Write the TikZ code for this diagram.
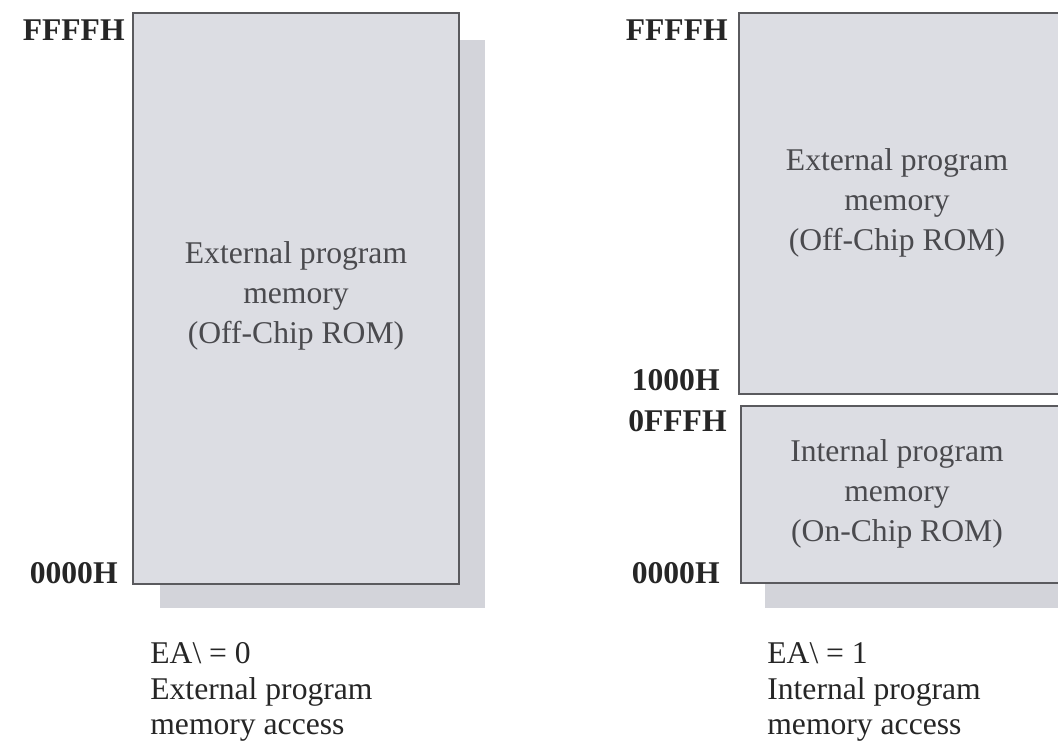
\documentclass[tikz,border=0pt]{standalone}
\usepackage{fontspec}
\setmainfont{Liberation Serif}
\definecolor{boxfill}{HTML}{DCDDE3}
\definecolor{shadowfill}{HTML}{D3D4DA}
\definecolor{boxline}{HTML}{5A5A5E}
\definecolor{txt}{HTML}{4A4A4E}
\tikzset{
  memblock/.style={draw=boxline, line width=1.5pt, fill=boxfill},
  shadowblock/.style={fill=shadowfill, draw=none},
  addr/.style={font=\bfseries\fontsize{18}{20}\selectfont, text=black!85, inner sep=0pt},
  inbox/.style={font=\fontsize{18}{22.7}\selectfont, align=center, text=txt, inner sep=0pt},
  caption/.style={font=\fontsize{18}{20.3}\selectfont, align=left, text=black!85, inner sep=0pt, anchor=west}
}
\begin{document}
\begin{tikzpicture}[x=0.02cm, y=-0.02cm]
\useasboundingbox (0,0) rectangle (1058,749);
\clip (0,0) rectangle (1058,749);
% left map
\path[shadowblock] (160,40) rectangle (485,608);
\path[memblock] (133,13) rectangle (459,584);
\node[inbox] (lext) at (296,296) {External program\\memory\\(Off-Chip ROM)};
\node[addr, anchor=east] (lffff) at (125,30) {FFFFH};
\node[addr, anchor=east] (l0000) at (118,573) {0000H};
\node[caption] (lcap) at (150,692) {EA\textbackslash{} = 0\\External program\\memory access};
% right map
\path[shadowblock] (765,420) rectangle (1070,608);
\path[memblock] (739,13) rectangle (1075,394);
\path[memblock] (741,406) rectangle (1075,583);
\node[inbox] (rext) at (897,203) {External program\\memory\\(Off-Chip ROM)};
\node[inbox] (rint) at (897,494) {Internal program\\memory\\(On-Chip ROM)};
\node[addr, anchor=east] (rffff) at (728,30) {FFFFH};
\node[addr, anchor=east] (r1000) at (720,380) {1000H};
\node[addr, anchor=east] (r0fff) at (727,421) {0FFFH};
\node[addr, anchor=east] (r0000) at (720,573) {0000H};
\node[caption] (rcap) at (767,692) {EA\textbackslash{} = 1\\Internal program\\memory access};
\end{tikzpicture}
\end{document}
